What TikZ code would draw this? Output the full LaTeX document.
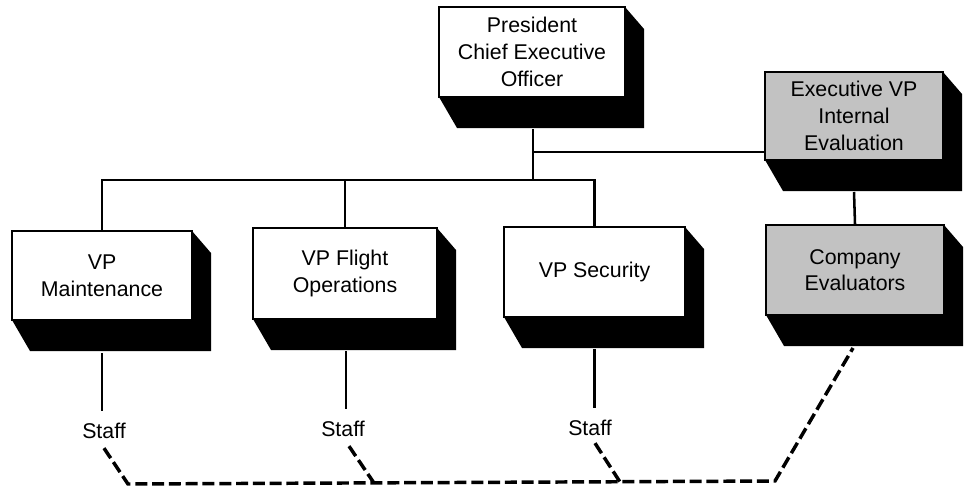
\documentclass[tikz,border=0pt]{standalone}
\usepackage{fontspec}
\setmainfont{Liberation Sans}
\usetikzlibrary{calc}
\tikzset{
  orgbox/.style={draw=black, line width=1.5pt, fill=white, align=center, inner sep=2pt,
    font=\fontsize{16}{20}\selectfont},
  graybox/.style={orgbox, fill=black!24},
  link/.style={draw=black, line width=1.9pt},
  dashlink/.style={draw=black, line width=2.6pt, dash pattern=on 9pt off 3.6pt},
  stafflbl/.style={font=\fontsize{16}{18}\selectfont, inner sep=1pt, outer sep=0pt},
}
% name, L, T, R, B, style, text
\newcommand\orgblock[7]{%
  \fill[black] (#4,#3) -- ({#4+19},{#3+22}) -- ({#4+19},{#5+31}) -- ({#2+18},{#5+31}) -- (#2,#5) -- cycle;
  \node[#6, minimum width={(#4-#2)*0.75pt}, minimum height={(#5-#3)*0.75pt}] (#1) at ({(#2+#4)/2},{(#3+#5)/2}) {#7};
}
\begin{document}
\begin{tikzpicture}[x=0.75pt,y=-0.75pt]
\useasboundingbox (0,0) rectangle (969,492);

\orgblock{p}{439}{7}{625}{97}{orgbox}{President\\Chief Executive\\Officer}
\orgblock{e}{765}{72}{943}{160}{graybox}{Executive VP\\Internal\\Evaluation}
\orgblock{m}{12}{231}{192}{320}{orgbox}{VP\\Maintenance}
\orgblock{f}{253}{228}{437}{319}{orgbox}{VP Flight\\Operations}
\orgblock{s}{504}{227}{685}{317}{orgbox}{VP Security}
\orgblock{c}{766}{225}{944}{315}{graybox}{Company\\Evaluators}

\node[stafflbl] (s1) at (104,431) {Staff};
\node[stafflbl] (s2) at (343,429) {Staff};
\node[stafflbl] (s3) at (590,428) {Staff};

\coordinate (bus) at (0,180);
\coordinate (ej) at (533,152);
\coordinate (d1) at (128,484);
\coordinate (d2) at (374,483);
\coordinate (d3) at (620,482);
\coordinate (d4) at (775,481);

% president stem and bus
\draw[link] ($(p.south)+(1,31)$) -- ($(p.south |- bus)+(1,0)$);
\draw[link] (ej) -- (e.west |- ej);
\draw[link] (m.north) -- (m.north |- bus) -- (s.north |- bus) -- (s.north);
\draw[link] (f.north) -- (f.north |- bus);
\draw[link] ($(e.south)+(0,31)$) -- (c.north);

% staff lines
\draw[link] ($(m.south)+(0,32)$) -- ($(m.south |- s1.north)+(0,-11)$);
\draw[link] ($(f.south)+(1,31)$) -- ($(f.south |- s2.north)+(1,-11)$);
\draw[link] ($(s.south)+(0,31)$) -- ($(s.south |- s3.north)+(0,-11)$);

% dashed staff links
\draw[dashlink] ($(s1.south)+(0,8)$) -- (d1) -- (d4) -- ($(c.south)+(-2,32)$);
\draw[dashlink] ($(s2.south)+(6,8)$) -- (d2);
\draw[dashlink] ($(s3.south)+(5,6)$) -- (d3);
\end{tikzpicture}
\end{document}
